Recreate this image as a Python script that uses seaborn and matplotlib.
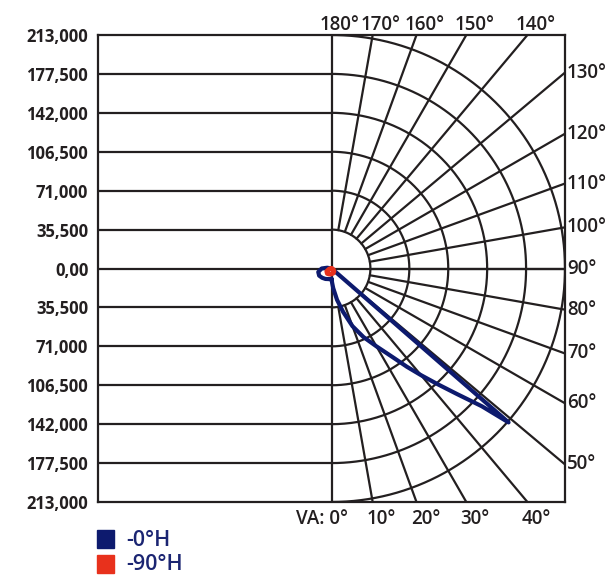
import numpy as np
import pandas as pd
import matplotlib.pyplot as plt
import matplotlib.transforms as mtransforms
from matplotlib.patches import Rectangle
import seaborn as sns

# intensity scale (cd) and grid rings
R_MAX = 213000
RING_STEP = 35500

# -0°H curve: right half (C0) and left half (C180), gamma measured from nadir
c0_angles = [0, 2.5, 5, 10, 15, 20, 25, 30, 32.5, 35, 37.5, 40, 42.5, 45, 47.5, 49,
             52, 60, 70, 80, 90, 120, 180]
c0_blue = [9000, 13000, 18000, 29000, 41000, 56000, 69000, 82000, 90000, 100000, 113000,
           127000, 143000, 162000, 186000, 214000, 1500, 1000, 800, 600, 500, 0, 0]
c180_angles = [0, 15, 30, 45, 60, 75, 90, 100, 110, 180]
c180_blue = [10000, 10000, 11000, 12000, 13000, 12500, 9000, 4000, 0, 0]

# -90°H curve
c90_angles = [0, 20, 40, 60, 80, 90, 180]
c90_red = [5000, 4500, 3500, 2000, 500, 0, 0]
c270_red = [5000, 5500, 6000, 5000, 2000, 0, 0]

BLUE = "#0d1a6e"
RED = "#e8311c"
GRID = "#231f20"
LEGEND_TXT = "#1b2572"


def to_xy(right_angles, right_vals, left_angles, left_vals):
    # right half traced from 180 down to 0, then left half from 0 up to 180
    ra = np.radians(right_angles[::-1])
    rv = np.array(right_vals[::-1], dtype=float)
    la = np.radians(left_angles)
    lv = np.array(left_vals, dtype=float)
    x = np.concatenate([rv * np.sin(ra), -lv * np.sin(la)])
    y = np.concatenate([-rv * np.cos(ra), -lv * np.cos(la)])
    return pd.DataFrame({"x": x, "y": y})


sns.set_style("white")
plt.rcParams["font.family"] = ["Open Sans", "DejaVu Sans"]

fig = plt.figure(figsize=(6.11, 5.75), dpi=100)
ax = fig.add_axes([98 / 611, 73 / 575, 467 / 611, 467 / 575])
ax.set_xlim(-R_MAX, R_MAX)
ax.set_ylim(-R_MAX, R_MAX)

lw = 1.6
levels = np.arange(RING_STEP, R_MAX + 1, RING_STEP)

# left half: horizontal lines
for lv in levels[:-1]:
    ax.plot([-R_MAX, 0], [lv, lv], color=GRID, lw=lw)
    ax.plot([-R_MAX, 0], [-lv, -lv], color=GRID, lw=lw)
ax.plot([-R_MAX, R_MAX], [0, 0], color=GRID, lw=lw)
ax.plot([0, 0], [-R_MAX, R_MAX], color=GRID, lw=lw)

# right half: rings
t = np.linspace(-np.pi / 2, np.pi / 2, 300)
for lv in levels:
    ax.plot(lv * np.cos(t), lv * np.sin(t), color=GRID, lw=lw)

# radial lines every 10 degrees
for g in range(10, 180, 10):
    gr = np.radians(g)
    r1 = R_MAX * 2
    ax.plot([RING_STEP * np.sin(gr), r1 * np.sin(gr)],
            [-RING_STEP * np.cos(gr), -r1 * np.cos(gr)], color=GRID, lw=lw)

# curves
blue_df = to_xy(c0_angles, c0_blue, c180_angles, c180_blue)
red_df = to_xy(c90_angles, c90_red, c90_angles, c270_red)
sns.lineplot(data=blue_df, x="x", y="y", sort=False, estimator=None, color=BLUE, ax=ax)
ax.lines[-1].set(linewidth=3.0, zorder=5, solid_joinstyle="round", solid_capstyle="round")
sns.lineplot(data=red_df, x="x", y="y", sort=False, estimator=None, color=RED, ax=ax)
ax.lines[-1].set(linewidth=3.4, zorder=6, solid_joinstyle="round", solid_capstyle="round")

# frame and y ticks
for sp in ax.spines.values():
    sp.set_visible(True)
    sp.set_color(GRID)
    sp.set_linewidth(lw)
yt = np.arange(-R_MAX, R_MAX + 1, RING_STEP)
ax.set_yticks(yt)
ax.set_yticklabels(["0,00" if v == 0 else f"{abs(v):,}" for v in yt],
                   fontsize=12, fontweight="bold", color="#231f20")
ax.set_xticks([])
ax.tick_params(axis="y", length=0, pad=7)
ax.set_xlabel("")
ax.set_ylabel("")


def offset(dx, dy):
    return ax.transData + mtransforms.ScaledTranslation(dx / 100, dy / 100, fig.dpi_scale_trans)


# angle labels
lab_kw = dict(fontsize=13.5, fontweight="semibold", color="#231f20", clip_on=False)
for g in range(0, 181, 10):
    gr = np.radians(g)
    if g < 45:
        x, y = R_MAX * np.tan(gr), -R_MAX
        if g == 0:
            ax.text(x, y, "VA: 0°", ha="right", va="top", transform=offset(17, -7), **lab_kw)
        else:
            ax.text(x, y, f"{g}°", ha="center", va="top", transform=offset(9, -7), **lab_kw)
    elif g <= 135:
        x, y = R_MAX, -R_MAX * np.cos(gr) / np.sin(gr)
        ax.text(x, y, f"{g}°", ha="left", va="center", transform=offset(2, 0), **lab_kw)
    else:
        x, y = R_MAX * np.sin(gr) / -np.cos(gr), R_MAX
        ax.text(x, y, f"{g}°", ha="center", va="bottom", transform=offset(8, 0), **lab_kw)

# legend
fig.add_artist(Rectangle((97 / 611, 1 - 548 / 575), 17 / 611, 18 / 575,
                         transform=fig.transFigure, color=BLUE))
fig.add_artist(Rectangle((97 / 611, 1 - 573 / 575), 17 / 611, 18 / 575,
                         transform=fig.transFigure, color=RED))
fig.text(126 / 611, 1 - 540 / 575, "-0°H", ha="left", va="center",
         fontsize=15.5, fontweight="semibold", color=LEGEND_TXT)
fig.text(126 / 611, 1 - 565 / 575, "-90°H", ha="left", va="center",
         fontsize=15.5, fontweight="semibold", color=LEGEND_TXT)

fig.savefig("out.png", dpi=100, facecolor="white")
